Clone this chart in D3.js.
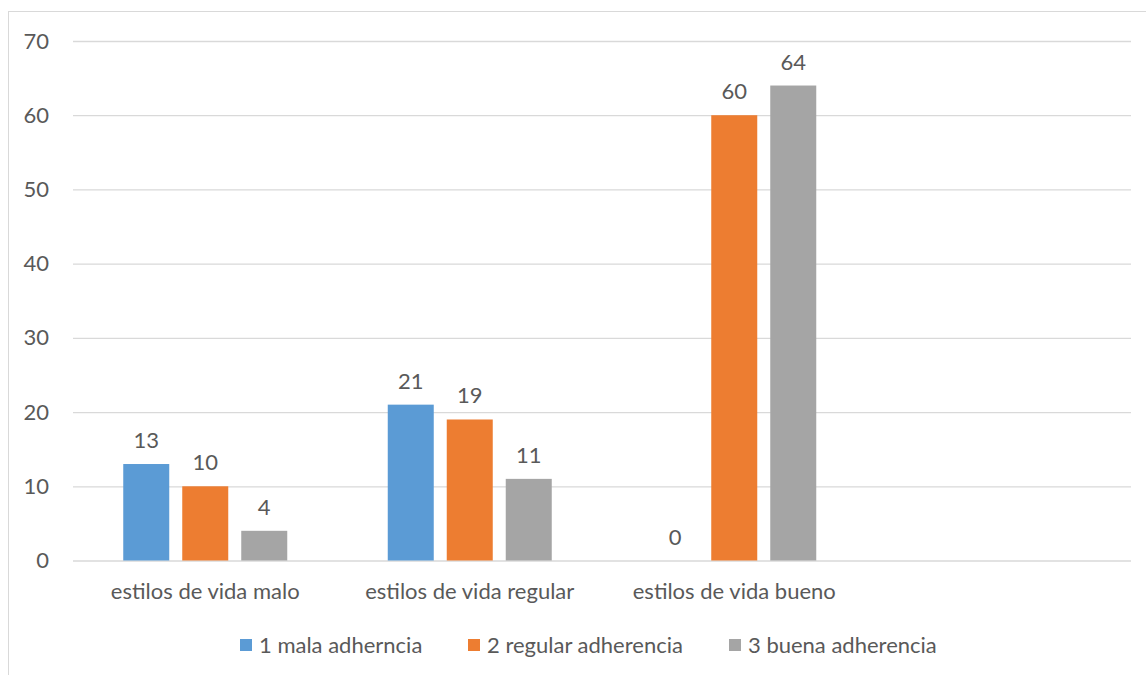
<!DOCTYPE html>
<html><head><meta charset="utf-8">
<script src="https://cdn.jsdelivr.net/npm/d3@7/dist/d3.min.js"></script>
<style>body{margin:0;background:#fff}svg{display:block}text{font-family:Lato,"Open Sans",sans-serif;fill:#595959}</style>
</head><body>
<svg id="c" width="1146" height="675"></svg>
<script>
const categories = ["estilos de vida malo", "estilos de vida regular", "estilos de vida bueno", ""];
const seriesNames = ["1 mala adherncia", "2 regular adherencia", "3 buena adherencia"];
const malaValues = [13, 21, 0];
const regularValues = [10, 19, 60];
const buenaValues = [4, 11, 64];
const yTicks = [0, 10, 20, 30, 40, 50, 60, 70];
const colors = ["#5B9BD5", "#ED7D31", "#A5A5A5"];

(function () {
const FS = 22;
const series = [malaValues, regularValues, buenaValues];
const svg = d3.select("#c");
// chart frame
svg.append("rect").attr("x", 8.5).attr("y", 11.5).attr("width", 1200).attr("height", 700)
  .attr("fill", "#fff").attr("stroke", "#d9d9d9").attr("stroke-width", 1);

const mLeft = 73, mRight = 1131, mTop = 41, mBottom = 560.5;
const x = d3.scaleBand().domain(categories.map((c, i) => i)).range([mLeft, mRight]);
const y = d3.scaleLinear().domain([0, 70]).range([mBottom, mTop]);
const barW = 46, step = 59;

// gridlines
const yAxis = d3.axisLeft(y).tickValues(yTicks).tickSize(-(mRight - mLeft)).tickPadding(24);
const ga = svg.append("g").attr("transform", `translate(${mLeft},0)`).call(yAxis);
ga.select(".domain").remove();
ga.selectAll(".tick line").attr("stroke", "#d9d9d9").attr("stroke-width", 1.3);
ga.selectAll(".tick text").attr("font-size", FS).style("font-family", "Lato").attr("fill", "#595959");

// bars
series.forEach((vals, si) => {
  vals.forEach((v, ci) => {
    const cx = x(ci) + x.bandwidth() / 2 + (si - 1) * step;
    svg.append("rect").attr("x", cx - barW / 2).attr("y", y(v)).attr("width", barW)
      .attr("height", y(0) - y(v)).attr("fill", colors[si]);
    svg.append("text").attr("x", cx).attr("y", y(v) - 16).attr("text-anchor", "middle")
      .attr("font-size", FS).text(v);
  });
});

// category labels
const xAxis = d3.axisBottom(x).tickFormat(i => categories[i]).tickSize(0).tickPadding(23);
const gx = svg.append("g").attr("transform", `translate(0,${mBottom})`).call(xAxis);
gx.select(".domain").remove();
gx.selectAll(".tick text").attr("font-size", FS).style("font-family", "Lato").attr("fill", "#595959");

// legend
const legendX = [240, 468, 729];
seriesNames.forEach((n, i) => {
  const g = svg.append("g").attr("transform", `translate(${legendX[i]},639)`);
  g.append("rect").attr("width", 12).attr("height", 12).attr("fill", colors[i]);
  g.append("text").attr("x", 19).attr("y", 14).attr("font-size", FS).text(n);
});
})();
</script>
</body></html>
